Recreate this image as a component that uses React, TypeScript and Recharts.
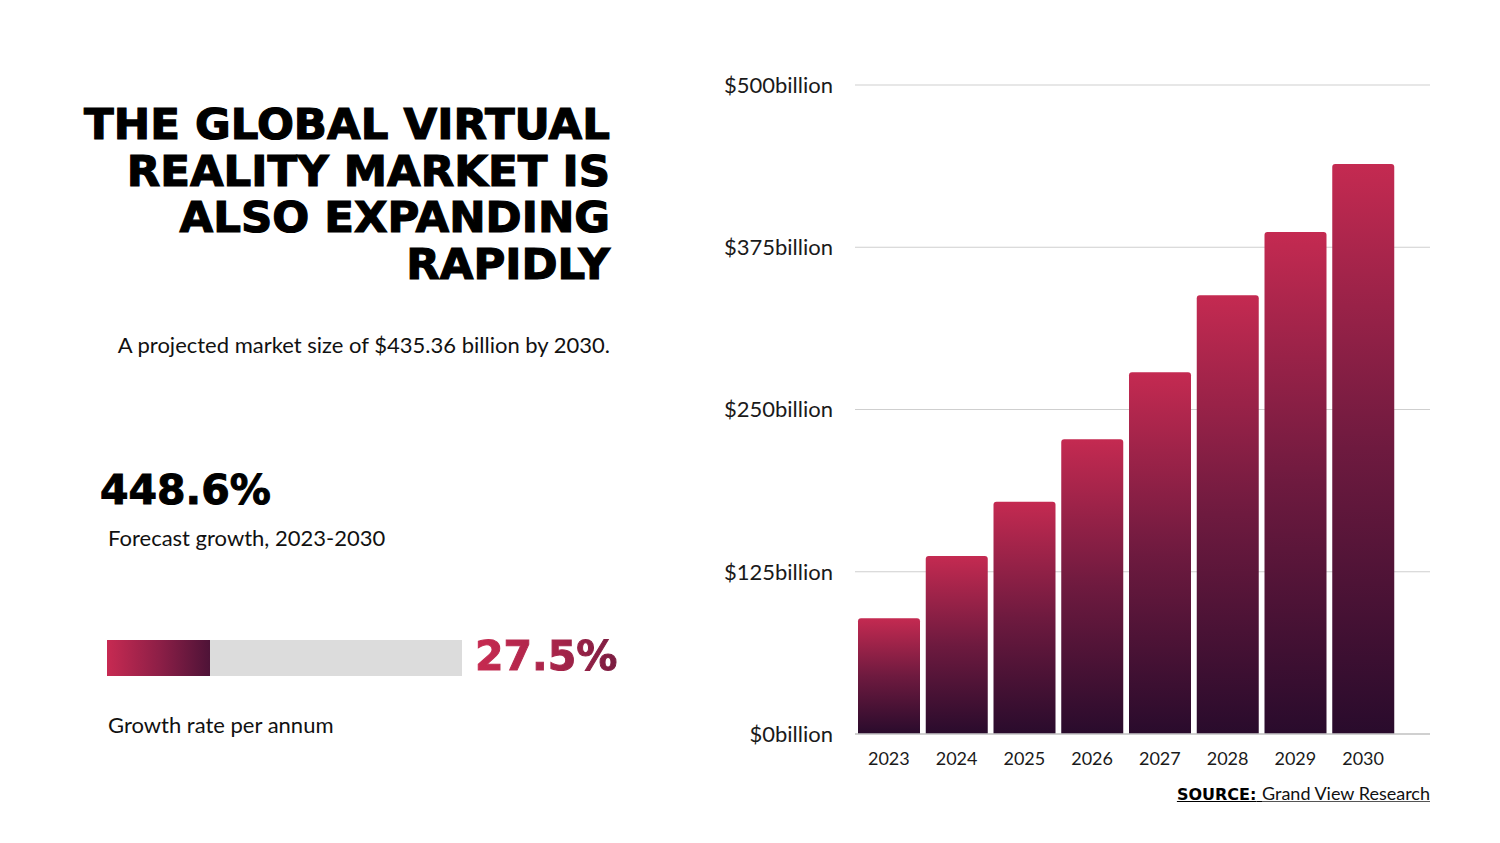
import { BarChart, Bar, XAxis, YAxis, CartesianGrid } from 'recharts'

const years = ['2023', '2024', '2025', '2026', '2027', '2028', '2029', '2030']
const marketSize = [89.1, 137.1, 179.0, 227.0, 278.7, 338.0, 386.7, 439.1]
const yTicks = [0, 125, 250, 375, 500]

const chartData = years.map((year, i) => ({ year, value: marketSize[i] }))

const bodyFont = 'Lato, "Open Sans", sans-serif'
const heavyFont = '"DejaVu Sans", sans-serif'

export default function App() {
  return (
    <div
      style={{
        position: 'absolute',
        left: 0,
        top: 0,
        width: 1500,
        height: 843,
        background: '#ffffff',
        overflow: 'hidden',
        fontFamily: bodyFont,
        color: '#111',
      }}
    >
      <div
        style={{
          position: 'absolute',
          right: 890,
          top: 101,
          width: 600,
          textAlign: 'right',
          fontFamily: heavyFont,
          fontWeight: 700,
          fontSize: 43.5,
          lineHeight: '46.5px',
          color: '#000',
          WebkitTextStroke: '1.2px #000',
        }}
      >
        THE GLOBAL VIRTUAL
        <br />
        REALITY MARKET IS
        <br />
        ALSO EXPANDING
        <br />
        RAPIDLY
      </div>

      <div
        style={{
          position: 'absolute',
          right: 890,
          top: 331,
          width: 600,
          textAlign: 'right',
          fontSize: 22,
          color: '#111',
        }}
      >
        A projected market size of $435.36 billion by 2030.
      </div>

      <div
        style={{
          position: 'absolute',
          left: 100,
          top: 466,
          fontFamily: heavyFont,
          fontWeight: 700,
          fontSize: 41,
          color: '#000',
          WebkitTextStroke: '1px #000',
        }}
      >
        448.6%
      </div>
      <div style={{ position: 'absolute', left: 108, top: 524, fontSize: 22 }}>
        Forecast growth, 2023-2030
      </div>

      <div
        style={{
          position: 'absolute',
          left: 107,
          top: 640,
          width: 355,
          height: 36,
          background: '#dcdcdc',
        }}
      >
        <div
          style={{
            width: 103,
            height: 36,
            background: 'linear-gradient(90deg, #c72a52 0%, #8e1f47 50%, #4e1337 100%)',
          }}
        />
      </div>
      <div
        style={{
          position: 'absolute',
          left: 475,
          top: 632,
          fontFamily: heavyFont,
          fontWeight: 700,
          fontSize: 41,
          background: 'linear-gradient(90deg, #c72a50 0%, #a52449 60%, #7a1c40 100%)',
          WebkitBackgroundClip: 'text',
          backgroundClip: 'text',
          color: 'transparent',
          WebkitTextStroke: '1px transparent',
        }}
      >
        27.5%
      </div>
      <div style={{ position: 'absolute', left: 108, top: 711, fontSize: 22 }}>
        Growth rate per annum
      </div>

      <div style={{ position: 'absolute', left: 700, top: 0 }}>
        <BarChart
          width={760}
          height={800}
          data={chartData}
          margin={{ top: 85, right: 30, bottom: 36, left: 0 }}
          barCategoryGap={3}
        >
          <defs>
            <linearGradient id="vrBar" x1="0" y1="0" x2="0" y2="1">
              <stop offset="0%" stopColor="#c42a51" />
              <stop offset="50%" stopColor="#6e1a3f" />
              <stop offset="100%" stopColor="#290b2c" />
            </linearGradient>
          </defs>
          <CartesianGrid vertical={false} stroke="#cfcfcf" strokeWidth={1.2} />
          <XAxis
            dataKey="year"
            height={30}
            axisLine={{ stroke: '#c9c9c9', strokeWidth: 1.5 }}
            tickLine={false}
            tickMargin={12}
            padding={{ left: 0, right: 33 }}
            tick={{ fill: '#1a1a1a', fontSize: 18, fontFamily: bodyFont }}
            interval={0}
          />
          <YAxis
            width={155}
            domain={[0, 500]}
            ticks={yTicks}
            axisLine={false}
            tickLine={false}
            tickMargin={16}
            tickFormatter={(v: number) => `$${v}billion`}
            tick={{ fill: '#1a1a1a', fontSize: 22, fontFamily: bodyFont }}
          />
          <Bar
            dataKey="value"
            fill="url(#vrBar)"
            radius={[3, 3, 0, 0]}
            isAnimationActive={false}
          />
        </BarChart>
      </div>

      <div
        style={{
          position: 'absolute',
          right: 70,
          top: 782,
          whiteSpace: 'nowrap',
          textAlign: 'right',
        }}
      >
        <span
          style={{
            fontFamily: heavyFont,
            fontWeight: 700,
            fontSize: 16,
            textDecoration: 'underline',
            color: '#000',
          }}
        >
          SOURCE:{' '}
        </span>
        <span
          style={{
            fontSize: 18,
            textDecoration: 'underline',
            textDecorationColor: '#555',
            color: '#111',
          }}
        >
          Grand View Research
        </span>
      </div>
    </div>
  )
}
